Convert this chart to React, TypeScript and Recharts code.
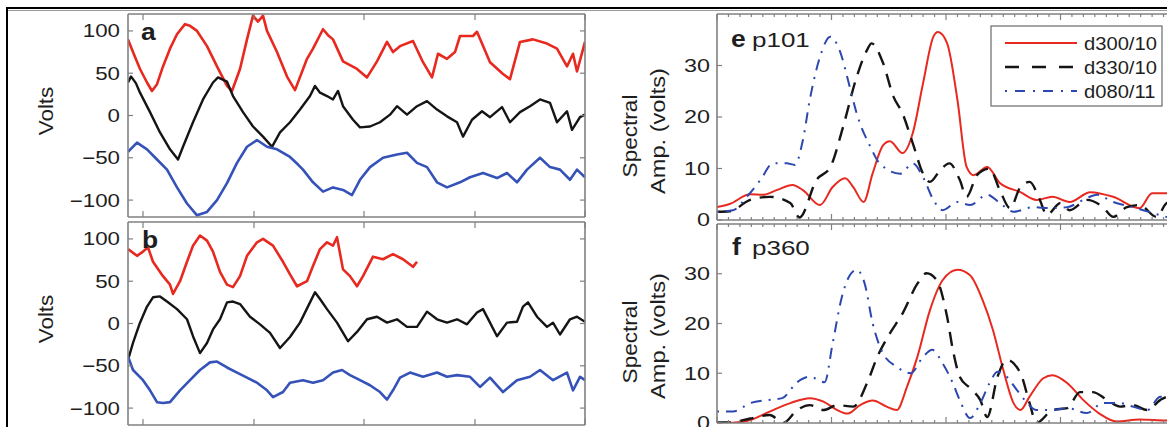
import { Line, LineChart, XAxis, YAxis } from 'recharts';

type Pt = [number, number];

// left panels: x = sample offset across the record, y = volts
const aRed: Pt[] = [
  [0, 90], [5, 75], [12, 55], [19, 39], [24, 29], [29, 37], [35, 58], [42, 79], [49, 96], [57, 108],
  [62, 106], [69, 100], [79, 82], [89, 58], [99, 35], [104, 29], [112, 55], [119, 90], [125, 118],
  [130, 111], [135, 118], [139, 100], [149, 75], [159, 46], [167, 30], [179, 67], [185, 79], [195, 102],
  [200, 95], [205, 90], [215, 64], [229, 55], [239, 45], [249, 64], [259, 87], [265, 75], [272, 82],
  [285, 88], [295, 63], [304, 45], [310, 73], [319, 67], [327, 75], [332, 94], [345, 94], [349, 99],
  [362, 63], [375, 49], [382, 43], [392, 87], [405, 90], [419, 85], [429, 79], [439, 58], [445, 73],
  [449, 52], [457, 87],
];
const aBlack: Pt[] = [
  [0, 39], [3, 46], [5, 43], [8, 38], [12, 27], [22, 4], [32, -20], [42, -40], [50, -52], [55, -37],
  [65, -8], [75, 19], [85, 39], [90, 45], [99, 40], [105, 23], [115, 4], [125, -13], [135, -25],
  [144, -37], [152, -20], [162, -8], [172, 7], [182, 23], [187, 35], [192, 27], [199, 23], [205, 19],
  [210, 29], [215, 11], [225, -5], [232, -14], [242, -13], [252, -8], [262, 1], [269, 11], [279, 1],
  [289, 11], [299, 17], [309, 7], [319, -1], [329, -8], [335, -25], [344, -5], [354, 5], [362, -2],
  [374, 10], [382, -8], [392, 4], [402, 11], [412, 19], [422, 15], [429, -8], [439, 5], [444, -17],
  [452, -2], [457, 1],
];
const aBlue: Pt[] = [
  [0, -43], [9, -32], [19, -40], [29, -52], [39, -64], [49, -85], [59, -104], [69, -118], [79, -114],
  [89, -100], [99, -80], [109, -56], [119, -37], [129, -29], [139, -37], [149, -40], [162, -49],
  [170, -58], [175, -64], [185, -79], [195, -90], [205, -85], [215, -88], [224, -94], [232, -76],
  [242, -61], [255, -50], [269, -46], [279, -44], [289, -56], [299, -61], [309, -79], [319, -85],
  [332, -79], [342, -73], [355, -68], [369, -74], [379, -68], [389, -79], [399, -64], [412, -50],
  [422, -61], [432, -64], [442, -76], [449, -64], [457, -73],
];

const bRed: Pt[] = [
  [0, 88], [9, 80], [15, 85], [20, 90], [25, 73], [35, 56], [42, 46], [45, 35], [52, 50], [59, 73],
  [65, 92], [72, 104], [79, 98], [85, 85], [92, 61], [99, 46], [105, 43], [112, 56], [119, 80],
  [129, 96], [135, 100], [145, 92], [155, 73], [162, 58], [169, 44], [179, 50], [185, 68], [192, 88],
  [199, 96], [205, 92], [209, 102], [215, 64], [222, 56], [229, 44], [235, 56], [245, 79], [255, 76],
  [265, 82], [275, 76], [285, 67], [289, 73],
];
const bBlack: Pt[] = [
  [0, -43], [5, -23], [12, 1], [19, 20], [25, 31], [32, 32], [39, 26], [49, 17], [59, 5], [65, -15],
  [72, -35], [79, -23], [85, -7], [92, 5], [99, 25], [105, 26], [112, 23], [122, 8], [132, -1],
  [142, -11], [152, -29], [162, -16], [172, 1], [182, 25], [187, 37], [192, 29], [199, 17], [209, 1],
  [217, -15], [220, -21], [229, -10], [239, 5], [249, 8], [259, 1], [269, 5], [279, -4], [289, -4],
  [299, 14], [309, 5], [319, 1], [329, 5], [339, -1], [349, 13], [355, 17], [362, 1], [369, -15],
  [379, 1], [389, 2], [395, 20], [400, 25], [409, 8], [419, -4], [425, 1], [432, -13], [442, 5],
  [449, 8], [457, 2],
];
const bBlue: Pt[] = [
  [0, -39], [5, -55], [15, -67], [22, -79], [29, -93], [35, -94], [42, -93], [52, -79], [62, -67],
  [72, -55], [82, -46], [89, -45], [99, -52], [109, -58], [119, -64], [129, -70], [139, -79],
  [145, -87], [155, -81], [162, -70], [175, -67], [185, -70], [195, -67], [205, -58], [214, -55],
  [222, -61], [232, -67], [242, -73], [252, -81], [259, -90], [265, -79], [272, -64], [282, -58],
  [295, -63], [309, -58], [319, -63], [329, -61], [342, -63], [352, -75], [362, -64], [375, -81],
  [389, -67], [402, -63], [412, -55], [425, -67], [439, -58], [445, -79], [452, -63], [457, -67],
];

// right panels: x = frequency bin, y = spectral amplitude (volts)
const eRed: Pt[] = [
  [0, 2.5], [1.1, 3.1], [2.9, 5.0], [4.0, 4.9], [5.2, 5.8], [6.6, 6.8], [7.5, 5.8], [9.0, 2.9],
  [10.1, 6.4], [11.2, 8.1], [11.9, 6.4], [12.8, 3.5], [13.6, 9.1], [14.5, 14.5], [15.1, 15.3],
  [16.2, 13], [17.1, 16.9], [18.0, 26.6], [18.9, 35.6], [19.3, 36.5], [20.1, 34.3], [21.0, 23.3],
  [21.8, 10.3], [22.4, 8.7], [23.6, 10.3], [24.7, 7.2], [26.5, 5.4], [27.9, 3.9], [29.3, 4.5],
  [30.8, 3.5], [32.6, 5.4], [34.6, 4.5], [36.9, 2.3], [38.0, 5.2], [39.3, 5.2], [40, 4.8],
];
const eBlack: Pt[] = [
  [0, 1.6], [1.1, 1.7], [2.9, 3.9], [4.6, 4.5], [6.4, 3.3], [7.2, 0.5], [8.7, 7.8], [9.9, 10.3],
  [11.0, 18], [12.2, 27.8], [13.1, 33], [13.5, 34.3], [14.5, 30.5], [15.4, 24], [16.2, 20.7],
  [17.1, 14.9], [18.0, 9], [18.6, 7.4], [19.5, 9.7], [20.3, 11], [21.2, 7.8], [21.8, 4.5],
  [22.7, 8.7], [23.8, 10], [24.7, 5.8], [25.6, 2.3], [26.5, 6.4], [27.3, 7.4], [28.2, 3.9],
  [28.8, 1.0], [30.0, 3.3], [30.8, 1.9], [32.3, 3.9], [33.7, 2.5], [34.6, 0.6], [35.8, 2.5],
  [36.9, 2.9], [38.4, 0.6], [39.3, 3.3], [40, 3.5],
];
const eBlue: Pt[] = [
  [0, 1.6], [1.4, 1.9], [2.6, 4.5], [3.8, 7.8], [4.9, 11], [6.1, 11], [6.8, 10.7], [7.5, 15.5],
  [8.1, 23.3], [9.0, 31.7], [9.9, 35.6], [10.7, 33], [11.6, 25.8], [12.2, 20.7], [13.4, 14.2],
  [14.2, 11], [16.0, 9], [17.1, 11], [18.0, 8.3], [18.9, 3.9], [19.7, 1.9], [21.0, 3.5], [22.1, 2.9],
  [23.6, 4.9], [24.7, 3.3], [25.9, 1.6], [27.6, 2.5], [29.1, 2.3], [30.6, 2.5], [32.0, 3.9],
  [33.2, 4.9], [34.6, 3.5], [36.3, 2.5], [38.0, 1.4], [39.3, 0.6], [40, 0.5],
];

const fRed: Pt[] = [
  [0, 0], [1.1, 0], [2.9, 0.6], [4.6, 2.3], [6.4, 4.0], [8.1, 5.0], [9.3, 4.3], [10.5, 2.6],
  [11.4, 1.9], [12.5, 3.6], [13.6, 4.5], [14.8, 3.3], [15.7, 2.6], [16.6, 7.3], [17.5, 13.3],
  [18.6, 22.7], [19.7, 28.7], [21.0, 30.8], [22.1, 29.7], [23.2, 24.7], [24.1, 18.7], [25.0, 10.7],
  [25.9, 4.0], [26.5, 2.6], [27.3, 5.3], [28.5, 9.0], [29.3, 9.6], [30.6, 8.0], [32.0, 4.6],
  [33.4, 1.9], [34.9, 0.3], [36.9, 0.7], [39.3, 0.5], [40, 0.5],
];
const fBlack: Pt[] = [
  [0, 0.1], [1.1, 0.1], [2.9, 0.9], [4.6, 1.6], [5.8, 0], [7.0, 2.6], [8.1, 3.6], [9.3, 2.6],
  [10.5, 3.6], [11.9, 3.3], [13.1, 8], [14.0, 13.3], [15.1, 18], [16.2, 22], [17.5, 28], [18.3, 30.1],
  [19.2, 28.7], [20.1, 21.3], [20.6, 14.7], [21.2, 9.3], [22.1, 7.0], [23.0, 4.6], [23.6, 1.2],
  [24.5, 9.3], [25.3, 12.7], [26.5, 10], [27.3, 4], [27.9, 0], [29.3, 2.6], [30.6, 3], [31.7, 6.2],
  [32.8, 6.2], [34.1, 4.6], [35.2, 3.3], [36.3, 3.6], [37.6, 2.6], [38.7, 4.6], [39.3, 5.3], [40, 5.5],
];
const fBlue: Pt[] = [
  [0, 2.3], [1.4, 2.3], [2.9, 4], [4.4, 4.6], [5.7, 5], [7.0, 8.2], [8.1, 9.3], [9.4, 8.2],
  [10.1, 16], [10.9, 25.3], [11.6, 29.7], [12.2, 30.8], [12.9, 28], [13.6, 20], [14.5, 14],
  [15.7, 11.3], [16.9, 10], [18.0, 13.3], [18.8, 14.7], [19.7, 12], [20.6, 8], [21.2, 4.6], [22.1, 1],
  [23.0, 4], [23.8, 8], [24.5, 10.3], [25.3, 9.3], [26.2, 6.6], [27.1, 4], [27.9, 2.6], [29.3, 2.6],
  [30.6, 3], [32.3, 2], [33.7, 4], [35.2, 4], [36.3, 3.3], [37.6, 2.6], [38.7, 5.3], [40, 5.3],
];

const timeTicks = [15, 126, 236, 347, 457];
const voltTicks = [-100, -50, 0, 50, 100];
const freqTicks = Array.from({ length: 41 }, (_, i) => i);
const ampTicks = [0, 10, 20, 30];

const seriesNames = ['d300/10', 'd330/10', 'd080/11'];

const FONT = '"Liberation Sans", Arial, Helvetica, sans-serif';
const FRAME = '#808080';
const INK = '#1e1e1e';
const RED = '#e8291f';
const BLACK = '#151515';
const BLUE = '#2c47b0';
const TRACE_BLUE = '#3552b8';
const DASH = '14 9';
const DASHDOT = '2 7 11 7';

const pts = (arr: Pt[]) => arr.map(([x, v]) => ({ x, v }));
const fmt = (v: number) => (v < 0 ? `\u2212${-v}` : `${v}`);
const frameLine = { stroke: FRAME, strokeWidth: 1.6 };

const leftTick = (gap: number, sx: number) => (p: any) => (
  <g>
    <line x1={p.x} x2={p.x + 5} y1={p.y} y2={p.y} stroke={FRAME} strokeWidth={1.2} />
    <text
      transform={`translate(${p.x - gap},${p.y}) scale(${sx},1)`}
      textAnchor="end"
      dy="0.36em"
      fontSize={18}
      fontFamily={FONT}
      fill={INK}
    >
      {fmt(p.payload.value)}
    </text>
  </g>
);
const rightTick = (p: any) => (
  <line x1={p.x} x2={p.x - 5} y1={p.y} y2={p.y} stroke={FRAME} strokeWidth={1.2} />
);
const hTick = (dir: 1 | -1, minor: boolean) => (p: any) => {
  const len = minor && p.payload.value % 10 !== 0 ? 3 : 6;
  return <line x1={p.x} x2={p.x} y1={p.y} y2={p.y + dir * len} stroke={FRAME} strokeWidth={1.2} />;
};

const axisBase = {
  type: 'number' as const,
  allowDataOverflow: true,
  tickSize: 0,
  tickMargin: 0,
  interval: 0 as const,
  tickLine: false,
  axisLine: frameLine,
};

// axes along the top/bottom are 1px tall and the right axis 1px wide; margins account for that
function TimePanel({ top, height, mTop, mBottom, red, black, blue }: any) {
  return (
    <div style={{ position: 'absolute', left: 0, top }}>
      <LineChart width={600} height={height} margin={{ top: mTop, right: 14, bottom: mBottom, left: 0 }}>
        <XAxis {...axisBase} xAxisId="b" dataKey="x" domain={[0, 457]} ticks={timeTicks} height={1} tick={hTick(-1, false)} />
        <XAxis {...axisBase} xAxisId="t" orientation="top" dataKey="x" domain={[0, 457]} ticks={timeTicks} height={1} tick={hTick(1, false)} />
        <YAxis {...axisBase} yAxisId="l" domain={[-120, 120]} ticks={voltTicks} width={128} tick={leftTick(8, 1.24)} />
        <YAxis {...axisBase} yAxisId="r" orientation="right" domain={[-120, 120]} ticks={voltTicks} width={1} tick={rightTick} />
        <Line xAxisId="b" yAxisId="l" data={pts(red)} dataKey="v" type="linear" stroke={RED} strokeWidth={2.6} strokeLinejoin="round" dot={false} isAnimationActive={false} />
        <Line xAxisId="b" yAxisId="l" data={pts(black)} dataKey="v" type="linear" stroke={BLACK} strokeWidth={2.4} strokeLinejoin="round" dot={false} isAnimationActive={false} />
        <Line xAxisId="b" yAxisId="l" data={pts(blue)} dataKey="v" type="linear" stroke={TRACE_BLUE} strokeWidth={2.6} strokeLinejoin="round" dot={false} isAnimationActive={false} />
      </LineChart>
    </div>
  );
}

function SpecPanel({ top, height, mTop, mBottom, red, black, blue }: any) {
  return (
    <div style={{ position: 'absolute', left: 600, top }}>
      <LineChart width={600} height={height} margin={{ top: mTop, right: 24, bottom: mBottom, left: 0 }}>
        <XAxis {...axisBase} xAxisId="b" dataKey="x" domain={[0, 40]} ticks={freqTicks} height={1} tick={hTick(-1, true)} />
        <XAxis {...axisBase} xAxisId="t" orientation="top" dataKey="x" domain={[0, 40]} ticks={freqTicks} height={1} tick={hTick(1, true)} />
        <YAxis {...axisBase} yAxisId="l" domain={[0, 40]} ticks={ampTicks} width={117} tick={leftTick(7, 1.3)} />
        <YAxis {...axisBase} yAxisId="r" orientation="right" domain={[0, 40]} ticks={ampTicks} width={1} tick={rightTick} />
        <Line xAxisId="b" yAxisId="l" data={pts(red)} dataKey="v" name={seriesNames[0]} type="monotone" stroke={RED} strokeWidth={2} dot={false} isAnimationActive={false} />
        <Line xAxisId="b" yAxisId="l" data={pts(black)} dataKey="v" name={seriesNames[1]} type="monotone" stroke={BLACK} strokeWidth={2.4} strokeDasharray={DASH} dot={false} isAnimationActive={false} />
        <Line xAxisId="b" yAxisId="l" data={pts(blue)} dataKey="v" name={seriesNames[2]} type="monotone" stroke={BLUE} strokeWidth={2} strokeDasharray={DASHDOT} dot={false} isAnimationActive={false} />
      </LineChart>
    </div>
  );
}

const txt = { fontFamily: FONT, fill: INK };

function Overlay() {
  const legendRows = [
    { name: seriesNames[0], color: RED, dash: undefined, w: 2 },
    { name: seriesNames[1], color: BLACK, dash: '14 13', w: 2.4 },
    { name: seriesNames[2], color: BLUE, dash: '2 8 10 8', w: 2 },
  ];
  return (
    <svg width={1167} height={427} style={{ position: 'absolute', left: 0, top: 0, pointerEvents: 'none' }}>
      <line x1={6} x2={1167} y1={8} y2={8} stroke="#000" strokeWidth={2} />
      <line x1={6} x2={1167} y1={10.5} y2={10.5} stroke="#9a9a9a" strokeWidth={1} />
      <line x1={7} x2={7} y1={7} y2={427} stroke="#000" strokeWidth={2} />

      <text {...txt} fontSize={20} textAnchor="middle" transform="translate(53,111) rotate(-90) scale(1.12,1)">Volts</text>
      <text {...txt} fontSize={20} textAnchor="middle" transform="translate(53,319) rotate(-90) scale(1.12,1)">Volts</text>

      <text {...txt} fontSize={20} textAnchor="middle" transform="translate(637,136) rotate(-90) scale(1.13,1)">Spectral</text>
      <text {...txt} fontSize={20} textAnchor="middle" transform="translate(665,131) rotate(-90) scale(1.18,1)">Amp. (volts)</text>
      <text {...txt} fontSize={20} textAnchor="middle" transform="translate(637,342) rotate(-90) scale(1.13,1)">Spectral</text>
      <text {...txt} fontSize={20} textAnchor="middle" transform="translate(665,336) rotate(-90) scale(1.18,1)">Amp. (volts)</text>

      <text {...txt} fontSize={23} fontWeight="bold" transform="translate(141,40) scale(1.15,1)">a</text>
      <text {...txt} fontSize={23} fontWeight="bold" transform="translate(142,248) scale(1.15,1)">b</text>
      <text {...txt} fontSize={23} fontWeight="bold" transform="translate(731,47) scale(1.15,1)">e</text>
      <text {...txt} fontSize={20} transform="translate(752,47) scale(1.3,1)">p101</text>
      <text {...txt} fontSize={23} fontWeight="bold" transform="translate(732,255) scale(1.15,1)">f</text>
      <text {...txt} fontSize={20} transform="translate(752,255) scale(1.3,1)">p360</text>

      <rect x={991} y={26} width={171} height={80} fill="#fff" stroke="#6a6a6a" strokeWidth={1.2} />
      {legendRows.map((r, i) => {
        const y = 43 + i * 24;
        return (
          <g key={r.name}>
            <line x1={1005} x2={1077} y1={y} y2={y} stroke={r.color} strokeWidth={r.w} strokeDasharray={r.dash} />
            <text {...txt} fontSize={18} transform={`translate(1084,${y + 6.5}) scale(1.12,1)`}>{r.name}</text>
          </g>
        );
      })}
    </svg>
  );
}

export default function App() {
  return (
    <div style={{ position: 'absolute', left: 0, top: 0, width: 1167, height: 427, overflow: 'hidden', background: '#fff', fontFamily: FONT }}>
      <TimePanel top={0} height={222} mTop={13} mBottom={4} red={aRed} black={aBlack} blue={aBlue} />
      <TimePanel top={221} height={206} mTop={0} mBottom={1} red={bRed} black={bBlack} blue={bBlue} />
      <SpecPanel top={0} height={232} mTop={13} mBottom={11} red={eRed} black={eBlack} blue={eBlue} />
      <SpecPanel top={221} height={216} mTop={2} mBottom={13} red={fRed} black={fBlack} blue={fBlue} />
      <Overlay />
    </div>
  );
}
